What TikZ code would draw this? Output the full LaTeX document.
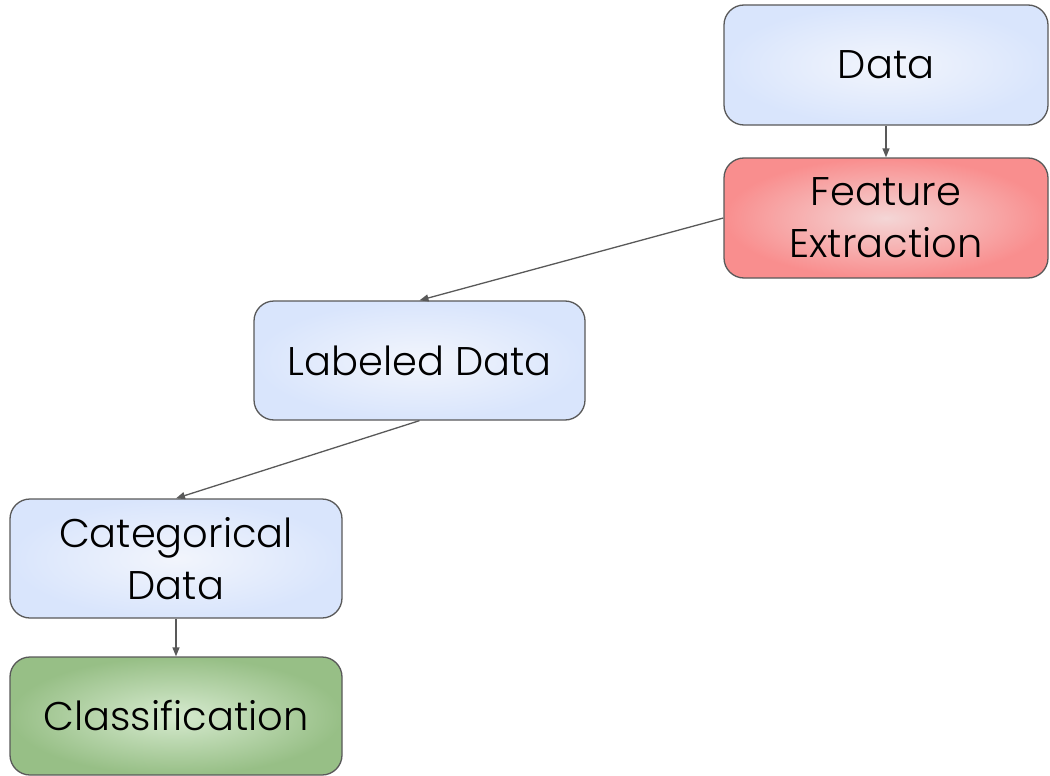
\documentclass[tikz,border=0pt]{standalone}
\usepackage{fontspec}
\setmainfont{Poppins Light}
\usetikzlibrary{arrows.meta}
\definecolor{lineg}{HTML}{595959}
\definecolor{blueIn}{HTML}{F2F5FC}
\definecolor{blueOut}{HTML}{D9E5FC}
\definecolor{redIn}{HTML}{F4D6D6}
\definecolor{redOut}{HTML}{F98E8E}
\definecolor{greenIn}{HTML}{D6EACF}
\definecolor{greenOut}{HTML}{97BF86}
\tikzset{
  box/.style={draw=lineg, line width=1.3pt, rounded corners=20pt,
    minimum height=120pt, align=center, font=\fontsize{40}{52}\selectfont,
    text=black, inner sep=0pt},
  bluebox/.style={box, inner color=blueIn, outer color=blueOut},
  redbox/.style={box, inner color=redIn, outer color=redOut},
  greenbox/.style={box, inner color=greenIn, outer color=greenOut},
  conn/.style={draw=lineg, line width=1.3pt, -{Triangle[length=9pt,width=7pt]}}
}
\begin{document}
\begin{tikzpicture}[x=1pt,y=-1pt]
\useasboundingbox (0,0) rectangle (1050,776);
\node[bluebox, minimum width=324pt] (data) at (886,65) {Data};
\node[redbox, minimum width=324pt] (fe) at (886,218) {Feature\\Extraction};
\node[bluebox, minimum width=331pt, minimum height=119pt] (lab) at (419.5,360.5) {Labeled Data};
\node[bluebox, minimum width=332pt, minimum height=119pt] (cat) at (176,558.5) {Categorical\\Data};
\node[greenbox, minimum width=332pt, minimum height=118pt] (cls) at (176,716) {Classification};
\draw[conn] (data.south) -- (fe.north);
\draw[conn] (fe.west) -- (lab.north);
\draw[conn] (lab.south) -- (cat.north);
\draw[conn] (cat.south) -- (cls.north);
\end{tikzpicture}
\end{document}
